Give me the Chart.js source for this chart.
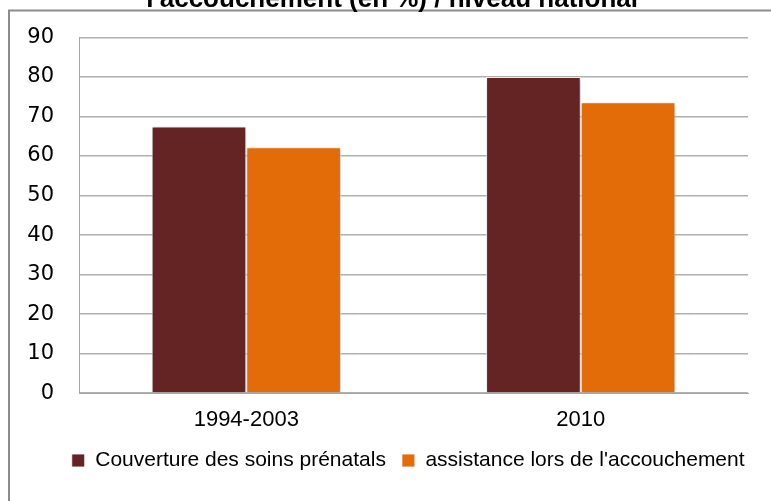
<!DOCTYPE html>
<html>
<head>
<meta charset="utf-8">
<script src="https://cdn.jsdelivr.net/npm/chart.js@4.4.1/dist/chart.umd.min.js"></script>
<style>
  html, body { margin: 0; padding: 0; background: #ffffff; overflow: hidden; }
  #wrap { position: absolute; left: 0; top: -20px; width: 771px; height: 521px; }
</style>
</head>
<body>
<div id="wrap"><canvas id="c" width="771" height="521"></canvas></div>
<script>
// ---- data ----
const titleText = "l'accouchement (en %) / niveau national";
const categories = ["1994-2003", "2010"];
const seriesNames = ["Couverture des soins prénatals", "assistance lors de l'accouchement"];
const prenatalCoverage = [67.5, 80.0];
const deliveryAssistance = [62.2, 73.6];
const yTicks = [0, 10, 20, 30, 40, 50, 60, 70, 80, 90];

const colors = ["#632423", "#E36C09"];

const framePlugin = {
  id: 'frame',
  beforeDraw(chart) {
    const ctx = chart.ctx;
    ctx.save();
    ctx.strokeStyle = '#8c8c8c';
    ctx.lineWidth = 2;
    ctx.beginPath();
    ctx.moveTo(9, chart.height);
    ctx.lineTo(9, 30.5);
    ctx.lineTo(chart.width, 30.5);
    ctx.stroke();
    ctx.restore();
  }
};

const shadowPlugin = {
  id: 'barShadow',
  beforeDatasetsDraw(chart) {
    const ctx = chart.ctx;
    ctx.save();
    ctx.shadowColor = 'rgba(0,0,0,0.28)';
    ctx.shadowBlur = 5;
    ctx.shadowOffsetX = 1;
    ctx.shadowOffsetY = 1;
  },
  afterDatasetsDraw(chart) {
    chart.ctx.restore();
  }
};

const boxShift = {
  id: 'boxShift',
  afterLayout(chart) {
    const lg = chart.legend;
    if (lg) {
      lg.left += 33;
      lg.right += 33;
      lg.top -= 4.5;
      lg.bottom -= 4.5;
    }
    const tt = chart.titleBlock;
    if (tt) {
      tt.left += 17;
      tt.right += 17;
    }
  }
};

new Chart(document.getElementById('c'), {
  type: 'bar',
  data: {
    labels: categories,
    datasets: [
      { label: seriesNames[0], data: prenatalCoverage, backgroundColor: colors[0],
        borderColor: 'rgba(255,255,255,0.85)', borderWidth: 1,
        barPercentage: 1.0, categoryPercentage: 0.566 },
      { label: seriesNames[1], data: deliveryAssistance, backgroundColor: colors[1],
        borderColor: 'rgba(255,255,255,0.85)', borderWidth: 1,
        barPercentage: 1.0, categoryPercentage: 0.566 }
    ]
  },
  options: {
    responsive: false,
    animation: false,
    layout: { padding: { left: 2.3, right: 23, top: 0, bottom: 15.5 } },
    plugins: {
      title: {
        display: true,
        text: titleText,
        color: '#000000',
        font: { family: 'Liberation Sans', size: 26, weight: 'bold' },
        padding: { top: 3.9, bottom: 22.4 }
      },
      legend: {
        position: 'bottom',
        align: 'center',
        labels: {
          color: '#000000',
          font: { family: 'Liberation Sans', size: 21 },
          boxWidth: 13,
          boxHeight: 13,
          padding: 16
        }
      },
      tooltip: { enabled: false }
    },
    scales: {
      x: {
        grid: { display: false },
        border: { display: true, color: '#a6a6a6', width: 1 },
        ticks: {
          color: '#000000',
          font: { family: 'Liberation Sans', size: 22 },
          padding: 5.5
        }
      },
      y: {
        min: 0,
        max: 90,
        afterBuildTicks(axis) { axis.ticks = yTicks.map(v => ({ value: v })); },
        grid: { color: '#b0b0b0', lineWidth: 1.5, drawTicks: false },
        border: { display: true, color: '#a6a6a6', width: 1 },
        ticks: {
          color: '#000000',
          font: { family: 'DejaVu Sans', size: 21 },
          padding: 25
        }
      }
    }
  },
  plugins: [framePlugin, shadowPlugin, boxShift]
});
</script>
</body>
</html>
